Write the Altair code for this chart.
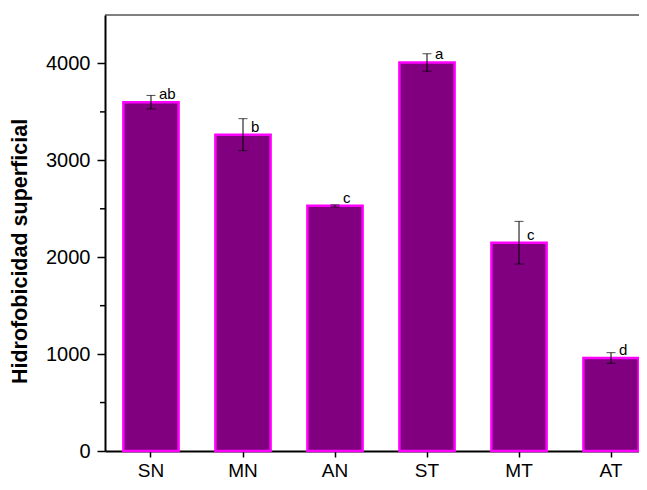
import altair as alt
import pandas as pd

categories = ["SN", "MN", "AN", "ST", "MT", "AT"]
means = [3600, 3265, 2530, 4010, 2150, 960]
errors = [70, 165, 10, 90, 220, 55]
letters = ["ab", "b", "c", "a", "c", "d"]
major_ticks = [0, 1000, 2000, 3000, 4000]
minor_ticks = [500, 1500, 2500, 3500]

df = pd.DataFrame({
    "cat": categories,
    "mean": means,
    "err": errors,
    "letter": letters,
})
df["lo"] = df["mean"] - df["err"]
df["hi"] = df["mean"] + df["err"]
minor_df = pd.DataFrame({"v": minor_ticks})
frame_df = pd.DataFrame({"k": [0]})

FONT = "Liberation Sans"
TITLE = "Hidrofobicidad superficial"
W, H = 534, 436

yscale = alt.Scale(domain=[0, 4500], nice=False, zero=True)
xscale = alt.Scale(paddingInner=0.4, paddingOuter=0.102, align=0.98)

xenc = alt.X(
    "cat:N", sort=categories, scale=xscale, title=None,
    axis=alt.Axis(labelAngle=0, labelFontSize=19, labelFont=FONT, labelColor="black",
                  tickSize=6, tickWidth=1.5, tickColor="black", domainColor="black",
                  domainWidth=2, labelPadding=4, grid=False),
)

base = alt.Chart(df)

bars = base.mark_bar(fill="#800080", stroke="#ff00ff", strokeWidth=2.5).encode(
    x=xenc,
    y=alt.Y("mean:Q", scale=yscale, title=TITLE,
            axis=alt.Axis(values=major_ticks, format="d", labelFontSize=20, labelFont=FONT,
                          labelColor="black", tickSize=8, tickWidth=1.5,
                          tickColor="black", domainColor="black", domainWidth=2,
                          labelPadding=7, grid=False, titleFont=FONT,
                          titleFontSize=21.5, titleFontWeight="bold",
                          titleColor="black", titlePadding=14, titleY=236)),
)

err_rule = base.mark_rule(color="black", strokeWidth=1).encode(
    x=alt.X("cat:N", sort=categories, scale=xscale),
    y=alt.Y("lo:Q", scale=yscale, title=TITLE),
    y2="hi:Q",
)
cap_lo = base.mark_tick(color="black", size=9, thickness=1).encode(
    x=alt.X("cat:N", sort=categories, scale=xscale),
    y=alt.Y("lo:Q", scale=yscale, title=TITLE),
)
cap_hi = base.mark_tick(color="black", size=9, thickness=1).encode(
    x=alt.X("cat:N", sort=categories, scale=xscale),
    y=alt.Y("hi:Q", scale=yscale, title=TITLE),
)
labels = base.mark_text(align="left", baseline="alphabetic", dx=8, dy=-3,
                        fontSize=15, font=FONT, color="black").encode(
    x=alt.X("cat:N", sort=categories, scale=xscale),
    y=alt.Y("mean:Q", scale=yscale, title=TITLE),
    text="letter:N",
)
minor = alt.Chart(minor_df).mark_rule(color="black", strokeWidth=1.5).encode(
    y=alt.Y("v:Q", scale=yscale, title=TITLE),
    x=alt.value(-5),
    x2=alt.value(0),
)
top_line = alt.Chart(frame_df).mark_rule(color="black", strokeWidth=1).encode(
    x=alt.value(0), x2=alt.value(W), y=alt.value(0),
)

chart = alt.layer(bars, err_rule, cap_lo, cap_hi, labels, minor, top_line).properties(
    width=W, height=H,
    autosize=alt.AutoSizeParams(type="none"),
    padding={"left": 97, "top": 7, "right": 0, "bottom": 31},
).configure_view(stroke=None)

chart.save("out.html", embed_options={"renderer": "svg", "actions": False})
